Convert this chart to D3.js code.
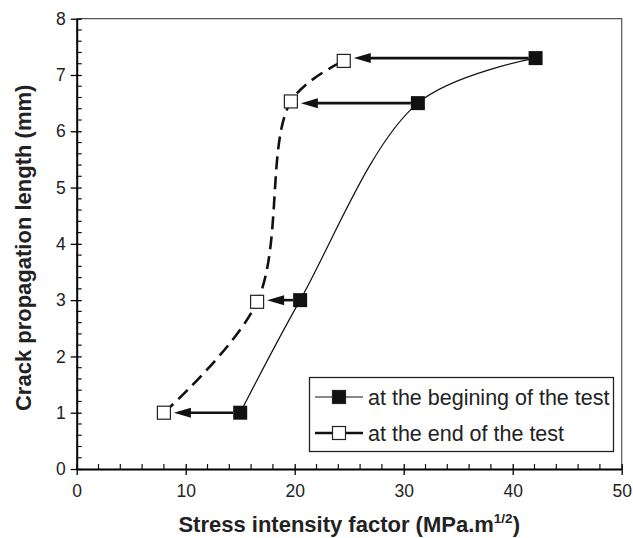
<!DOCTYPE html>
<html>
<head>
<meta charset="utf-8">
<script src="https://cdn.jsdelivr.net/npm/d3@7"></script>
<style>
  body { margin: 0; background: #fff; }
  svg { font-family: "Liberation Sans", Arial, sans-serif; }
</style>
</head>
<body>
<svg id="chart" width="633" height="538"></svg>
<script>
// stress intensity factor (MPa.m^1/2) vs crack length (mm)
const beginK = [15, 20.5, 31.3, 42.1];
const beginLen = [1, 3, 6.5, 7.3];
const endK = [8, 16.55, 19.65, 24.5];
const endLen = [1, 2.97, 6.53, 7.25];

const xTicks = [0, 10, 20, 30, 40, 50];
const yTicks = [0, 1, 2, 3, 4, 5, 6, 7, 8];
const legendLabels = ["at the begining of the test", "at the end of the test"];

const svg = d3.select("#chart");
const margin = { top: 18.7, right: 11.3, bottom: 69, left: 76.7 };
const W = 633, H = 538;

const x = d3.scaleLinear().domain([0, 50]).range([margin.left, W - margin.right]);
const y = d3.scaleLinear().domain([0, 8]).range([H - margin.bottom, margin.top]);

const begin = beginK.map((k, i) => ({ k, len: beginLen[i] }));
const end = endK.map((k, i) => ({ k, len: endLen[i] }));

// frame (top / right)
svg.append("path")
  .attr("d", `M${x(0)},${y(8)}H${x(50)}V${y(0)}`)
  .attr("fill", "none")
  .attr("stroke", "#555")
  .attr("stroke-width", 1.2);

// minor ticks, inside
const xMinor = d3.range(0, 50.01, 2).filter(v => v % 10 !== 0);
const yMinor = d3.range(0, 8.01, 0.2).map(v => +v.toFixed(1)).filter(v => Math.abs(v - Math.round(v)) > 0.01);

svg.append("g").selectAll("line")
  .data(xMinor)
  .join("line")
  .attr("x1", d => x(d)).attr("x2", d => x(d))
  .attr("y1", y(0)).attr("y2", y(0) - 5)
  .attr("stroke", "#111").attr("stroke-width", 1.2);

svg.append("g").selectAll("line")
  .data(yMinor)
  .join("line")
  .attr("y1", d => y(d)).attr("y2", d => y(d))
  .attr("x1", x(0)).attr("x2", x(0) + 5)
  .attr("stroke", "#111").attr("stroke-width", 1.2);

// major ticks cross the axis
const xAxis = svg.append("g")
  .attr("transform", `translate(0,${y(0)})`)
  .call(d3.axisBottom(x).tickValues(xTicks).tickSize(6).tickPadding(10).tickSizeOuter(0));
xAxis.selectAll(".tick line").attr("y1", -5).attr("stroke-width", 1.3);
xAxis.select(".domain").attr("stroke-width", 2);

const yAxis = svg.append("g")
  .attr("transform", `translate(${x(0)},0)`)
  .call(d3.axisLeft(y).tickValues(yTicks).tickSize(6).tickPadding(5).tickSizeOuter(0));
yAxis.selectAll(".tick line").attr("x1", 5).attr("stroke-width", 1.3);
yAxis.select(".domain").attr("stroke-width", 2);

svg.selectAll(".tick text")
  .attr("font-family", "Liberation Sans, Arial, sans-serif")
  .attr("font-size", 17.5)
  .attr("fill", "#222");

// curves
const line = d3.line()
  .x(d => x(d.k))
  .y(d => y(d.len))
  .curve(d3.curveCatmullRom.alpha(0.5));

svg.append("path")
  .datum(begin)
  .attr("d", line)
  .attr("fill", "none")
  .attr("stroke", "#111")
  .attr("stroke-width", 1.2);

svg.append("path")
  .datum(end)
  .attr("d", line)
  .attr("fill", "none")
  .attr("stroke", "#111")
  .attr("stroke-width", 2.6)
  .attr("stroke-dasharray", "13,7");

// arrows from begin to end points
const arrows = svg.append("g");
begin.forEach((b, i) => {
  const e = end[i];
  const x0 = x(b.k) - 7, x1 = x(e.k) + 10, yy = y(b.len);
  arrows.append("line")
    .attr("x1", x0).attr("x2", x1 + 14)
    .attr("y1", yy).attr("y2", yy)
    .attr("stroke", "#111").attr("stroke-width", 2.6);
  arrows.append("path")
    .attr("d", `M${x1},${yy}L${x1 + 17},${yy - 5}L${x1 + 17},${yy + 5}Z`)
    .attr("fill", "#111");
});

// markers
svg.append("g").selectAll("rect")
  .data(begin)
  .join("rect")
  .attr("x", d => x(d.k) - 7).attr("y", d => y(d.len) - 7)
  .attr("width", 14).attr("height", 14)
  .attr("fill", "#111");

svg.append("g").selectAll("rect")
  .data(end)
  .join("rect")
  .attr("x", d => x(d.k) - 6.5).attr("y", d => y(d.len) - 6.5)
  .attr("width", 13).attr("height", 13)
  .attr("fill", "#fff")
  .attr("stroke", "#222")
  .attr("stroke-width", 1.2);

// legend
const lg = svg.append("g");
lg.append("rect")
  .attr("x", 309.5).attr("y", 377.5)
  .attr("width", 304).attr("height", 74)
  .attr("fill", "#fff").attr("stroke", "#222").attr("stroke-width", 1.3);

legendLabels.forEach((label, i) => {
  const ly = 397 + i * 36;
  lg.append("line")
    .attr("x1", 315).attr("x2", 363)
    .attr("y1", ly).attr("y2", ly)
    .attr("stroke", "#111").attr("stroke-width", i === 0 ? 1.2 : 2.6);
  lg.append("rect")
    .attr("x", 339 - 6.5).attr("y", ly - 6.5)
    .attr("width", 13).attr("height", 13)
    .attr("fill", i === 0 ? "#111" : "#fff")
    .attr("stroke", "#222").attr("stroke-width", 1.2);
  lg.append("text")
    .attr("x", 368).attr("y", ly + 7.5)
    .attr("font-size", 21.5)
    .attr("fill", "#222")
    .text(label);
});

// axis titles
const xt = svg.append("text")
  .attr("x", (x(0) + x(50)) / 2)
  .attr("y", 532)
  .attr("text-anchor", "middle")
  .attr("font-size", 22)
  .attr("font-weight", "bold")
  .attr("fill", "#222");
xt.append("tspan").text("Stress intensity factor (MPa.m");
xt.append("tspan").attr("dy", -9).attr("font-size", 13.5).text("1/2");
xt.append("tspan").attr("dy", 9).text(")");

svg.append("text")
  .attr("transform", `translate(31,${(y(0) + y(8)) / 2 + 4}) rotate(-90)`)
  .attr("text-anchor", "middle")
  .attr("font-size", 22)
  .attr("font-weight", "bold")
  .attr("fill", "#222")
  .text("Crack propagation length (mm)");
</script>
</body>
</html>
